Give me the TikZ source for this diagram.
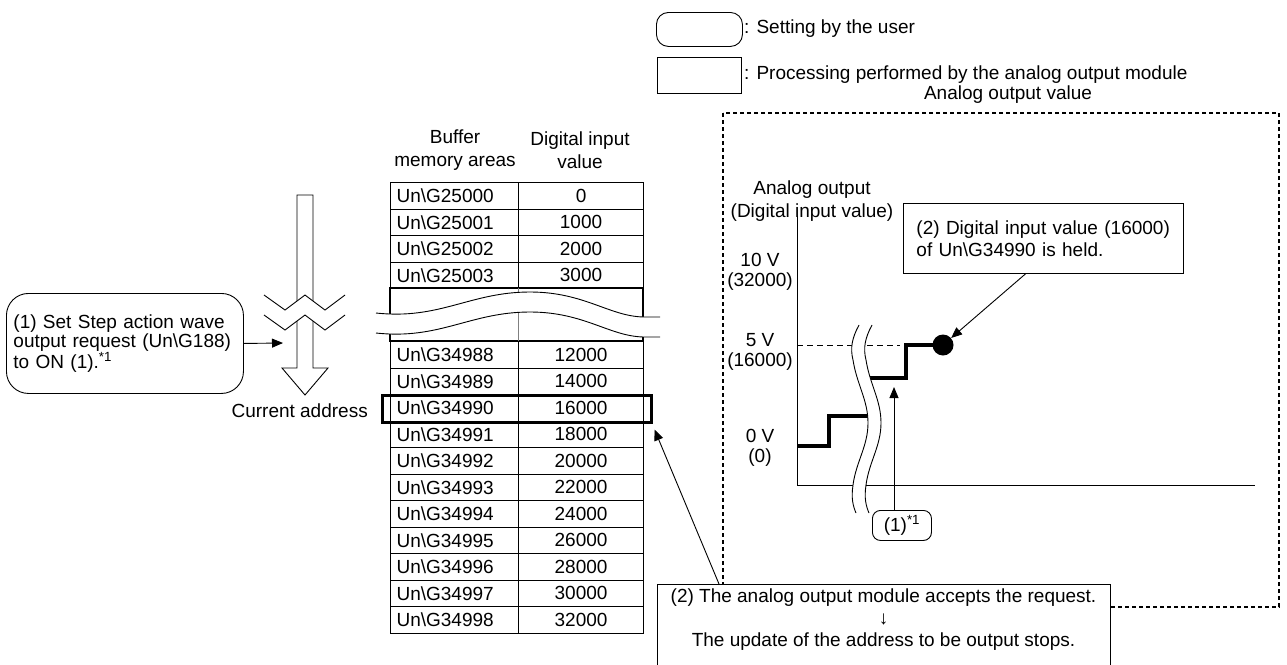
\documentclass[tikz,border=0pt]{standalone}
\usepackage{fontspec}
\setmainfont{Liberation Sans}
\usetikzlibrary{arrows.meta}
\newcommand{\tf}{\fontsize{19}{19}\selectfont}
\newcommand{\hf}{\fontsize{19}{23}\selectfont}
\begin{document}
\begin{tikzpicture}[x=1pt,y=-1pt,
  every node/.style={font=\tf, inner sep=0pt},
  userbox/.style={draw, line width=0.9pt, rounded corners=16pt, fill=white},
  procbox/.style={draw, line width=0.9pt, fill=white},
  cellL/.style={draw, line width=1.1pt, anchor=north west, minimum height=26.5pt, text width=116pt, inner xsep=6pt, align=left},
  cellR/.style={draw, line width=1.1pt, anchor=north west, minimum height=26.5pt, minimum width=125pt},
  arr/.style={line width=0.9pt, -{Triangle[length=11pt,width=9pt]}},
  stepline/.style={line width=4pt},
  thinline/.style={line width=0.9pt},
]
\useasboundingbox (0,0) rectangle (1287,664);

% ---------- legend ----------
\node[userbox, rounded corners=12pt, minimum width=86pt, minimum height=34pt, anchor=north west] (lu) at (656,12) {};
\node[anchor=west] (lut) at (744,29) {: Setting by the user};
\node[procbox, minimum width=84pt, minimum height=36pt, anchor=north west] (lp) at (657,57) {};
\node[anchor=west] (lpt) at (744,75) {: Processing performed by the analog output module};

% ---------- table ----------
\node[align=center, font=\hf] (hb) at (455,150) {Buffer\\memory areas};
\node[align=center, font=\hf] (hd) at (580,150) {Digital input\\value};
\foreach \i/\a/\v in {0/25000/0,1/25001/1000,2/25002/2000,3/25003/3000}{
  \node[cellL] (a\i) at (390,{182+26.5*\i}) {Un\textbackslash G\a};
  \node[cellR] (v\i) at (518,{182+26.5*\i}) {\v};
}
\draw[line width=1.1pt] (390,288) rectangle (643,341);
\draw[line width=0.4pt, gray] (518,288) -- (518,341);
\foreach \i/\a/\v in {0/34988/12000,1/34989/14000,2/34990/16000,3/34991/18000,4/34992/20000,5/34993/22000,6/34994/24000,7/34995/26000,8/34996/28000,9/34997/30000,10/34998/32000}{
  \node[cellL] (b\i) at (390,{341+26.5*\i}) {Un\textbackslash G\a};
  \node[cellR] (w\i) at (518,{341+26.5*\i}) {\v};
}
\node[draw, line width=2.5pt, anchor=north west, minimum width=269pt, minimum height=27pt] (hl) at (381,394) {};
% break in the table
\fill[white] (376,313) .. controls (440,320) and (470,292) .. (530,292) .. controls (585,292) and (610,317) .. (645,317) -- (660,317)
  -- (660,337) -- (645,337) .. controls (610,337) and (585,312) .. (530,312) .. controls (470,312) and (440,340) .. (376,333) -- cycle;
\draw[thinline] (376,313) .. controls (440,320) and (470,292) .. (530,292) .. controls (585,292) and (610,317) .. (645,317) -- (660,317);
\draw[thinline] (376,333) .. controls (440,340) and (470,312) .. (530,312) .. controls (585,312) and (610,337) .. (645,337) -- (660,337);

% ---------- current address arrow ----------
\draw[thinline, fill=white] (297,195) -- (313,195) -- (313,368) -- (328,368) -- (305,395) -- (282,368) -- (297,368) -- cycle;
\fill[white] (264,295) -- (285,310) -- (305,295) -- (325,310) -- (345,295) -- (345,315) -- (325,330) -- (305,315) -- (285,330) -- (264,315) -- cycle;
\draw[thinline] (264,295) -- (285,310) -- (305,295) -- (325,310) -- (345,295);
\draw[thinline] (264,315) -- (285,330) -- (305,315) -- (325,330) -- (345,315);
\coordinate (cur) at (283,343);
\node[anchor=east] (ca) at (368,411) {Current address};

\node[userbox, rounded corners=22pt, minimum width=237pt, minimum height=100pt, anchor=north west, text width=223pt, inner xsep=7pt, align=left] (ub) at (6,293)
  {(1) Set Step action wave\\output request (Un\textbackslash G188)\\to ON (1).\textsuperscript{*1}};
\draw[arr] (ub.east) -- (cur);

% ---------- chart ----------
\draw[line width=1.6pt, dash pattern=on 4pt off 3pt] (723,113) rectangle (1279,607);
\node (at) at (1008,95) {Analog output value};
\node[align=center, font=\hf, anchor=south] (yl) at (812,222) {Analog output\\(Digital input value)};
\draw[thinline] (797,216) -- (797,485) -- (1255,485);
\node[align=center, font=\fontsize{19}{20}\selectfont] (l10) at (760,272) {10 V\\(32000)};
\node[align=center, font=\fontsize{19}{20}\selectfont] (l5) at (760,352) {5 V\\(16000)};
\node[align=center, font=\fontsize{19}{20}\selectfont] (l0) at (760,448) {0 V\\(0)};
\draw[line width=0.8pt, dash pattern=on 6pt off 4pt] (797,345) -- (900,345);
\draw[stepline] (797,446) -- (829,446) -- (829,416) -- (870,416);
\draw[stepline] (864,378) -- (906,378) -- (906,345) -- (943,345);
\node[circle, fill, minimum size=21pt] (dot) at (943,345) {};
% break in the graph
\fill[white] (859,325) .. controls (852,338) and (850,348) .. (853,360) .. controls (857,385) and (868,400) .. (868,423) .. controls (868,446) and (856,462) .. (853,485) .. controls (851,498) and (853,506) .. (856,513)
  -- (869,513) .. controls (866,506) and (864,498) .. (866,485) .. controls (869,462) and (881,446) .. (881,423) .. controls (881,400) and (870,385) .. (866,360) .. controls (863,348) and (865,338) .. (872,325) -- cycle;
\draw[thinline] (859,325) .. controls (852,338) and (850,348) .. (853,360) .. controls (857,385) and (868,400) .. (868,423) .. controls (868,446) and (856,462) .. (853,485) .. controls (851,498) and (853,506) .. (856,513);
\draw[thinline] (872,325) .. controls (865,338) and (863,348) .. (866,360) .. controls (870,385) and (881,400) .. (881,423) .. controls (881,446) and (869,462) .. (866,485) .. controls (864,498) and (866,506) .. (869,513);

\node[userbox, rounded corners=8pt, minimum width=59pt, minimum height=30pt, anchor=north west] (n1) at (872,510) {(1)\textsuperscript{*1}};
\coordinate (t1) at (894,387);
\draw[arr] (n1.north -| t1) -- (t1);

\node[procbox, minimum width=280pt, minimum height=70pt, anchor=north west, text width=254pt, inner xsep=13pt, align=left] (c2) at (903,203)
  {(2) Digital input value (16000)\\[3pt]of Un\textbackslash G34990 is held.};
\draw[arr] ([xshift=-18pt]c2.south) -- (dot);

% ---------- bottom box ----------
\node[procbox, minimum width=453pt, minimum height=90pt, anchor=north west] (b2) at (657,584) {};
\node[align=center, anchor=north, font=\fontsize{19}{22}\selectfont] (b2t) at (883.5,589)
  {(2) The analog output module accepts the request.\\ \char"2193\\The update of the address to be output stops.};
\draw[arr] ([xshift=62pt]b2.north west) -- ([shift={(2pt,-6pt)}]hl.south east);
\end{tikzpicture}
\end{document}
